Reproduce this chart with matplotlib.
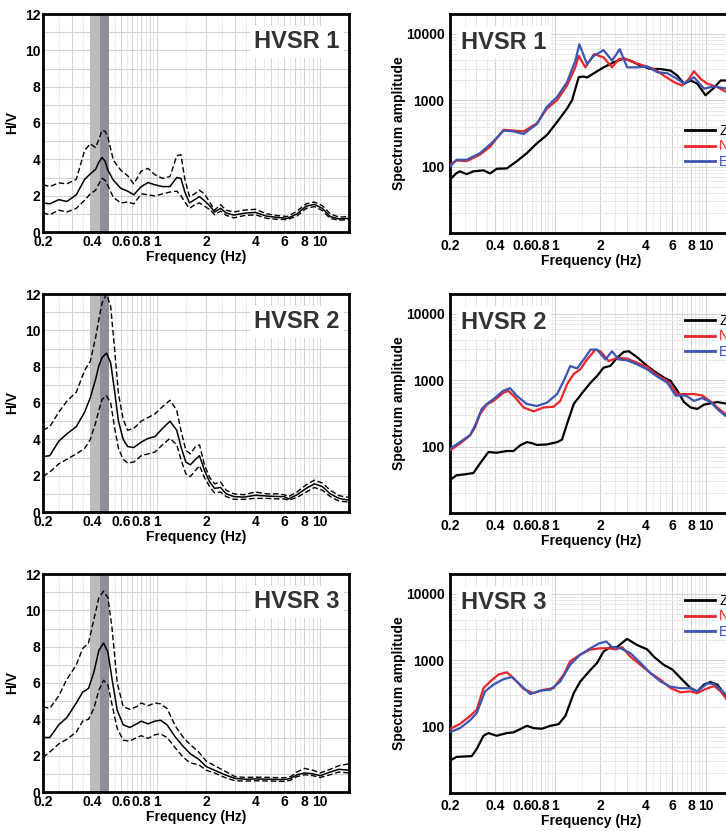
import numpy as np
import matplotlib.pyplot as plt
from matplotlib.ticker import FixedLocator, LogLocator, NullFormatter

plt.rcParams['font.family'] = ['Liberation Sans', 'DejaVu Sans']
plt.rcParams['font.weight'] = 'bold'

# ---- H/V curves (mean, mean+std, mean-std) ----
f1 = [0.2, 0.22, 0.25, 0.28, 0.32, 0.36, 0.39, 0.42, 0.44, 0.46, 0.48, 0.5, 0.54, 0.6, 0.66,
      0.72, 0.8, 0.88, 0.97, 1.08, 1.2, 1.32, 1.4, 1.48, 1.58, 1.7, 1.82, 1.95, 2.1, 2.25,
      2.45, 2.65, 2.95, 3.4, 4.0, 4.7, 5.5, 6.3, 7.2, 8.2, 9.2, 10.3, 11.5, 13, 15]
hv1 = [1.6, 1.55, 1.78, 1.68, 2.05, 2.9, 3.2, 3.45, 3.85, 4.1, 3.9, 3.4, 2.85, 2.4, 2.25,
       2.05, 2.5, 2.72, 2.6, 2.5, 2.5, 3.0, 2.95, 2.2, 1.6, 1.78, 1.95, 1.72, 1.45, 1.1,
       1.3, 1.05, 0.93, 1.03, 1.08, 0.87, 0.8, 0.75, 1.0, 1.42, 1.52, 1.3, 0.85, 0.72, 0.75]
hv1_up = [2.6, 2.5, 2.7, 2.65, 2.9, 4.5, 4.85, 4.65, 5.1, 5.6, 5.55, 5.2, 3.95, 3.4, 3.1,
          2.65, 3.35, 3.5, 3.15, 2.95, 3.05, 4.2, 4.25, 2.9, 1.95, 2.1, 2.3, 2.1, 1.65, 1.2,
          1.5, 1.2, 1.1, 1.2, 1.25, 1.0, 0.9, 0.85, 1.15, 1.55, 1.65, 1.45, 1.0, 0.82, 0.85]
hv1_lo = [1.05, 0.95, 1.2, 1.1, 1.3, 1.75, 2.1, 2.3, 2.65, 2.95, 2.85, 2.55, 1.9, 1.6, 1.65,
          1.55, 2.1, 2.05, 1.98, 2.1, 2.2, 2.25, 2.0, 1.65, 1.3, 1.5, 1.6, 1.42, 1.25, 0.95,
          1.15, 0.92, 0.78, 0.9, 0.95, 0.75, 0.7, 0.68, 0.88, 1.3, 1.4, 1.18, 0.75, 0.65, 0.68]

f2 = [0.2, 0.22, 0.25, 0.28, 0.32, 0.36, 0.39, 0.42, 0.44, 0.46, 0.49, 0.52, 0.55, 0.58, 0.62,
      0.66, 0.72, 0.8, 0.88, 0.97, 1.08, 1.2, 1.32, 1.4, 1.5, 1.6, 1.72, 1.82, 1.95, 2.1,
      2.25, 2.45, 2.65, 2.95, 3.4, 4.0, 4.7, 5.5, 6.0, 6.4, 7.2, 8.2, 9.2, 10.3, 11.5, 13, 15]
hv2 = [3.05, 3.1, 3.9, 4.3, 4.7, 5.5, 6.3, 7.3, 8.05, 8.5, 8.75, 8.2, 6.6, 5.0, 4.0,
       3.6, 3.55, 3.85, 4.05, 4.15, 4.6, 5.0, 4.5, 3.6, 2.75, 2.6, 2.9, 3.1, 2.3, 1.65,
       1.3, 1.35, 1.0, 0.85, 0.82, 0.92, 0.88, 0.85, 0.85, 0.72, 0.95, 1.3, 1.55, 1.4, 1.0, 0.75, 0.65]
hv2_up = [4.5, 4.7, 5.5, 6.1, 6.6, 7.8, 8.3, 9.6, 10.6, 11.5, 12.0, 11.3, 8.9, 6.5, 5.1,
          4.5, 4.6, 5.0, 5.2, 5.4, 5.8, 6.15, 5.6, 4.5, 3.4, 3.2, 3.6, 3.7, 2.6, 1.9,
          1.55, 1.65, 1.2, 1.0, 0.95, 1.1, 1.0, 1.0, 0.95, 0.85, 1.1, 1.5, 1.75, 1.6, 1.2, 0.9, 0.8]
hv2_lo = [1.95, 2.2, 2.65, 2.9, 3.2, 3.5, 4.0, 4.9, 5.6, 6.2, 6.4, 6.0, 4.6, 3.5, 2.9,
          2.7, 2.75, 3.1, 3.2, 3.3, 3.7, 4.05, 3.7, 2.9, 2.1, 1.95, 2.3, 2.55, 1.9, 1.4,
          1.05, 1.1, 0.85, 0.7, 0.7, 0.75, 0.75, 0.72, 0.72, 0.65, 0.8, 1.1, 1.35, 1.2, 0.85, 0.6, 0.55]

f3 = [0.2, 0.22, 0.25, 0.28, 0.32, 0.35, 0.38, 0.41, 0.44, 0.47, 0.5, 0.53, 0.57, 0.62, 0.68,
      0.75, 0.8, 0.88, 0.97, 1.05, 1.15, 1.3, 1.45, 1.6, 1.8, 2.0, 2.25, 2.6, 3.0, 3.5,
      4.0, 5.0, 6.0, 6.6, 7.2, 8.0, 9.0, 10.0, 11.5, 13, 15]
hv3 = [3.0, 3.0, 3.7, 4.1, 4.9, 5.5, 5.7, 6.6, 7.8, 8.2, 7.7, 6.2, 4.5, 3.7, 3.55,
       3.75, 3.9, 3.75, 3.9, 3.95, 3.7, 3.0, 2.5, 2.1, 1.8, 1.4, 1.2, 0.95, 0.75, 0.7,
       0.72, 0.7, 0.68, 0.75, 0.95, 1.05, 1.0, 0.9, 1.1, 1.25, 1.2]
hv3_up = [4.7, 4.6, 5.3, 6.2, 7.0, 7.9, 8.2, 9.5, 10.7, 11.05, 10.7, 9.0, 6.0, 4.7, 4.55,
          4.7, 4.9, 4.75, 4.9, 4.85, 4.6, 3.6, 3.0, 2.6, 2.2, 1.7, 1.45, 1.15, 0.85, 0.8,
          0.82, 0.8, 0.78, 0.85, 1.1, 1.3, 1.2, 1.05, 1.25, 1.45, 1.55]
hv3_lo = [1.9, 2.2, 2.65, 2.9, 3.3, 3.9, 4.0, 4.6, 5.6, 6.15, 5.9, 4.8, 3.5, 2.85, 2.8,
          3.0, 3.1, 2.95, 3.15, 3.2, 3.0, 2.4, 1.9, 1.6, 1.5, 1.2, 1.05, 0.8, 0.62, 0.6,
          0.62, 0.6, 0.58, 0.65, 0.85, 0.95, 0.9, 0.8, 0.95, 1.1, 1.05]

# ---- spectra (Z, N, E) ----
s1_fz = [0.2, 0.221, 0.233, 0.258, 0.286, 0.334, 0.370, 0.409, 0.477, 0.557, 0.649, 0.757, 0.882,
         1.03, 1.20, 1.295, 1.435, 1.55, 1.63, 1.81, 2.1, 2.45, 2.86, 3.17, 3.7, 4.31, 5.02,
         5.86, 6.49, 7.19, 7.96, 8.82, 10.0, 11.4, 12.6, 13.8, 15]
s1_z = [64, 80, 85, 77, 85, 88, 79, 93, 94, 121, 160, 225, 300, 470, 750, 1000, 2230, 2280,
        2200, 2560, 3140, 3730, 4270, 3960, 3330, 2970, 2970, 2800, 2360, 1780, 1990, 1780,
        1190, 1550, 1990, 1990, 1900]
s1_fn = [0.2, 0.221, 0.258, 0.317, 0.370, 0.454, 0.529, 0.617, 0.757, 0.882, 1.03, 1.20, 1.363,
         1.435, 1.589, 1.81, 2.1, 2.39, 2.65, 2.86, 3.34, 3.89, 4.54, 5.29, 6.17, 6.98, 7.76,
         8.38, 9.28, 10.3, 12.0, 13.8, 15]
s1_n = [107, 124, 121, 152, 200, 360, 350, 340, 450, 750, 1000, 1670, 3140, 4700, 3140, 4970,
        4430, 3140, 4180, 4270, 3730, 3330, 2970, 2360, 1880, 1670, 2100, 2740, 2100, 1780,
        1580, 1330, 1250]
s1_fe = [0.2, 0.221, 0.258, 0.317, 0.389, 0.454, 0.529, 0.617, 0.757, 0.882, 1.03, 1.20, 1.363,
         1.449, 1.63, 1.81, 2.1, 2.39, 2.69, 3.01, 3.51, 4.1, 4.77, 5.57, 6.49, 7.19, 8.38,
         9.77, 11.4, 13.8, 15]
s1_e = [100, 127, 127, 160, 240, 350, 340, 310, 440, 800, 1120, 1880, 3960, 7000, 3520, 4700,
        5700, 3960, 5890, 3140, 3140, 3230, 2660, 2560, 2100, 1780, 2230, 1500, 1620, 1500, 1480]

s2_fz = [0.2, 0.221, 0.245, 0.286, 0.317, 0.360, 0.409, 0.477, 0.529, 0.586, 0.649, 0.701, 0.757,
         0.882, 1.03, 1.11, 1.20, 1.33, 1.55, 1.72, 1.90, 2.1, 2.33, 2.58, 2.86, 3.09, 3.51,
         4.1, 4.54, 5.29, 5.86, 6.49, 7.19, 7.96, 8.82, 9.77, 10.8, 12.0, 13.3, 15]
s2_z = [31.5, 37, 38, 40, 56, 83, 81, 86, 86, 105, 117, 113, 106, 108, 117, 127, 220, 440, 690,
        920, 1160, 1550, 1650, 2180, 2680, 2740, 2230, 1640, 1380, 1100, 980, 700, 470, 390,
        370, 430, 450, 470, 450, 440]
s2_fn = [0.2, 0.233, 0.272, 0.294, 0.317, 0.351, 0.389, 0.454, 0.49, 0.543, 0.617, 0.719, 0.838,
         0.977, 1.083, 1.20, 1.33, 1.47, 1.63, 1.85, 2.0, 2.27, 2.58, 3.01, 3.51, 4.1, 4.77,
         5.57, 6.49, 7.38, 8.38, 9.52, 10.8, 12.3, 13.6, 15]
s2_n = [88, 111, 148, 197, 310, 430, 490, 650, 690, 550, 390, 340, 390, 400, 490, 870, 1250,
        1460, 2060, 2900, 2740, 1950, 2180, 2130, 1840, 1590, 1200, 980, 620, 620, 620, 590,
        480, 370, 310, 290]
s2_fe = [0.2, 0.233, 0.272, 0.294, 0.325, 0.351, 0.389, 0.454, 0.502, 0.557, 0.649, 0.757, 0.882,
         1.03, 1.14, 1.26, 1.40, 1.55, 1.72, 1.90, 2.16, 2.39, 2.65, 3.01, 3.51, 4.1, 4.77,
         5.57, 6.33, 7.38, 8.38, 9.52, 10.8, 12.3, 13.6, 15]
s2_e = [93, 117, 150, 210, 370, 440, 520, 700, 760, 580, 440, 410, 460, 620, 980, 1640, 1510,
        2060, 2900, 2900, 2060, 2740, 2060, 2000, 1740, 1460, 1140, 920, 590, 590, 490, 540,
        470, 350, 290, 270]

s3_fz = [0.2, 0.221, 0.279, 0.301, 0.334, 0.360, 0.409, 0.477, 0.529, 0.649, 0.719, 0.817, 0.928,
         1.055, 1.17, 1.33, 1.47, 1.72, 1.90, 2.1, 2.33, 2.58, 2.86, 3.01, 3.51, 4.1, 4.54,
         5.29, 6.01, 6.83, 7.96, 8.82, 9.77, 10.8, 12.0, 12.95, 13.8, 15]
s3_z = [30.8, 35, 36, 46, 73, 80, 73, 80, 82, 103, 95, 93, 103, 109, 145, 320, 480, 720, 910,
        1360, 1580, 1580, 1920, 2100, 1700, 1460, 1130, 850, 730, 540, 380, 340, 430, 470, 430,
        340, 260, 230]
s3_fn = [0.2, 0.233, 0.272, 0.301, 0.334, 0.370, 0.420, 0.477, 0.529, 0.617, 0.719, 0.838, 0.977,
         1.14, 1.26, 1.47, 1.72, 2.0, 2.27, 2.52, 2.79, 3.17, 3.70, 4.31, 5.02, 5.86, 6.83,
         7.96, 8.82, 9.77, 11.4, 12.62, 13.8, 15]
s3_n = [92, 110, 145, 180, 380, 480, 610, 660, 540, 370, 320, 360, 380, 610, 970, 1220, 1450,
        1520, 1520, 1460, 1580, 1130, 850, 640, 510, 380, 330, 340, 320, 360, 410, 340, 260, 230]
s3_fe = [0.2, 0.233, 0.272, 0.301, 0.342, 0.389, 0.454, 0.515, 0.586, 0.683, 0.796, 0.928, 1.083,
         1.26, 1.47, 1.72, 1.95, 2.19, 2.39, 2.72, 3.17, 3.70, 4.31, 5.02, 5.86, 6.83, 7.96,
         8.82, 10.28, 11.4, 12.95, 13.8, 15]
s3_e = [83, 95, 125, 160, 340, 430, 520, 560, 430, 310, 350, 360, 480, 860, 1220, 1520, 1790,
        1920, 1580, 1520, 1280, 910, 640, 480, 400, 380, 380, 340, 450, 440, 340, 300, 270]

names = ['HVSR 1', 'HVSR 2', 'HVSR 3']
peak_band = [(0.39, 0.45), (0.45, 0.505)]
xt = [0.2, 0.4, 0.6, 0.8, 1, 2, 4, 6, 8, 10]
xtl = ['0.2', '0.4', '0.6', '0.8', '1', '2', '4', '6', '8', '10']

hv_data = [(f1, hv1, hv1_up, hv1_lo), (f2, hv2, hv2_up, hv2_lo), (f3, hv3, hv3_up, hv3_lo)]
sp_data = [(s1_fz, s1_z, s1_fn, s1_n, s1_fe, s1_e),
           (s2_fz, s2_z, s2_fn, s2_n, s2_fe, s2_e),
           (s3_fz, s3_z, s3_fn, s3_n, s3_fe, s3_e)]

W, H = 726, 831
fig = plt.figure(figsize=(W / 100, H / 100), dpi=100)

grid_major = '#d4d4d4'
grid_minor = '#e8e8e8'
half_subs = np.arange(1.5, 10, 1.0)

def style_x(ax):
    ax.set_xscale('log')
    ax.set_xlim(0.2, 15)
    ax.xaxis.set_major_locator(FixedLocator(xt))
    ax.set_xticklabels(xtl)
    ax.xaxis.set_minor_locator(LogLocator(subs=np.arange(2, 10), numticks=20))
    ax.xaxis.set_minor_formatter(NullFormatter())
    ax.tick_params(axis='both', which='both', length=0, labelsize=10, pad=2)
    ax.set_xlabel('Frequency (Hz)', fontsize=10, fontweight='bold', labelpad=1)
    for s in ax.spines.values():
        s.set_linewidth(2.0)
    # extra faint lines between the log grid lines
    for dec in [0.1, 1, 10]:
        for s in half_subs:
            ax.axvline(dec * s, color=grid_minor, lw=0.6, zorder=0)

tops = [14, 294, 574]
for i in range(3):
    top = tops[i]
    # left: H/V
    ax = fig.add_axes([43 / W, 1 - (top + 218) / H, 306 / W, 218 / H])
    f, m, up, lo = hv_data[i]
    ax.axvspan(peak_band[0][0], peak_band[0][1], color='#bcbcbc', lw=0, zorder=1)
    ax.axvspan(peak_band[1][0], peak_band[1][1], color='#8f8f99', lw=0, zorder=1)
    ax.plot(f, m, color='black', lw=1.1, zorder=3)
    ax.plot(f, up, color='black', lw=1.0, dashes=(4, 2), zorder=3)
    ax.plot(f, lo, color='black', lw=1.0, dashes=(4, 2), zorder=3)
    style_x(ax)
    ax.set_ylim(0, 12)
    ax.set_yticks(range(0, 13, 2))
    ax.set_yticks(range(0, 13), minor=True)
    ax.grid(which='both', color=grid_major, lw=0.8, zorder=0)
    ax.set_axisbelow(True)
    ax.set_ylabel('H/V', fontsize=10, fontweight='bold', labelpad=4)
    ax.text(0.97, 0.872, names[i], transform=ax.transAxes, ha='right', va='center',
            fontsize=17, fontweight='bold', color='#333333', zorder=5,
            bbox=dict(facecolor='white', edgecolor='none', pad=3))

    # right: spectra
    ax = fig.add_axes([450 / W, 1 - (top + 219) / H, 282 / W, 219 / H])
    fz, z, fn, n, fe, e = sp_data[i]
    lz, = ax.plot(fz, z, color='black', lw=1.6, zorder=3, label='Z')
    ln, = ax.plot(fn, n, color='#e8262b', lw=1.6, zorder=3, label='N')
    le, = ax.plot(fe, e, color='#3b55b2', lw=1.6, zorder=4, label='E')
    style_x(ax)
    ax.set_yscale('log')
    ax.set_ylim(10, 20000)
    ax.yaxis.set_major_locator(FixedLocator([100, 1000, 10000]))
    ax.set_yticklabels(['100', '1000', '10000'])
    ax.yaxis.set_minor_locator(LogLocator(subs=np.arange(2, 10), numticks=20))
    ax.yaxis.set_minor_formatter(NullFormatter())
    ax.tick_params(axis='both', which='both', length=0, labelsize=10, pad=4)
    ax.grid(which='major', color=grid_major, lw=0.8, zorder=0)
    ax.grid(which='minor', color=grid_minor, lw=0.7, zorder=0)
    ax.set_axisbelow(True)
    ax.set_ylabel('Spectrum amplitude', fontsize=10, fontweight='bold', labelpad=0)
    ax.text(0.04, 0.872, names[i], transform=ax.transAxes, ha='left', va='center',
            fontsize=17, fontweight='bold', color='#333333', zorder=5,
            bbox=dict(facecolor='white', edgecolor='none', pad=3))
    leg_y = [132, 322, 602][i]
    leg = ax.legend(handles=[lz, ln, le], loc='upper left', frameon=False,
                    bbox_to_anchor=(685 / W, 1 - (leg_y - 8) / H),
                    bbox_transform=fig.transFigure, fontsize=10, handlelength=2.15,
                    handletextpad=0.3, labelspacing=0.1, borderpad=0, borderaxespad=0)
    for t, c in zip(leg.get_texts(), ['black', '#e8262b', '#3b55b2']):
        t.set_color(c)
        t.set_fontweight('normal')
    for h in leg.legend_handles:
        h.set_linewidth(2.0)

fig.savefig('out.png', dpi=100)
